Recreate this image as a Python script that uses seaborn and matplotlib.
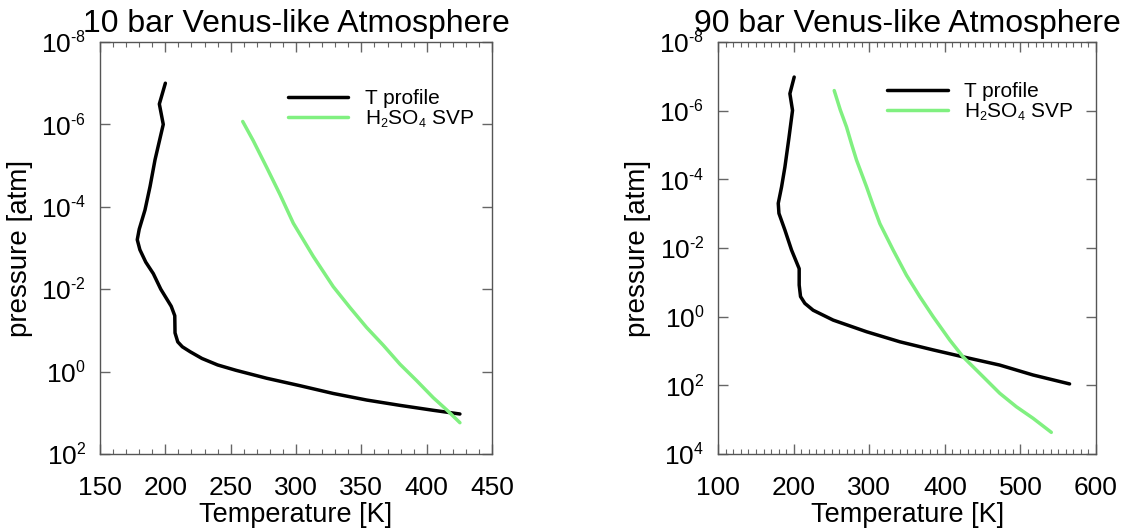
import matplotlib
matplotlib.use("Agg")
import matplotlib.pyplot as plt
import matplotlib._mathtext as _mathtext
from matplotlib.ticker import MultipleLocator, FixedLocator, FixedFormatter, NullLocator
import pandas as pd
import seaborn as sns

# ---- 10 bar atmosphere ----
t10_temp = [200.0, 195.4, 198.4, 192.1, 188.3, 184.4, 180.0, 178.5, 180.5, 185.0,
            190.8, 196.5, 204.5, 207.2, 207.4, 209.5, 213.0, 219.0, 228.0, 240.0,
            254.0, 277.5, 303.0, 328.5, 354.0, 379.5, 405.0, 425.4]
t10_pres = [1.0e-7, 3.2e-7, 1.0e-6, 7.2e-6, 3.2e-5, 1.2e-4, 3.5e-4, 6.3e-4, 1.1e-3, 2.2e-3,
            4.2e-3, 1.0e-2, 2.6e-2, 4.4e-2, 0.115, 0.19, 0.25, 0.33, 0.48, 0.69,
            0.93, 1.45, 2.2, 3.4, 4.9, 6.6, 8.7, 10.7]
svp10_temp = [259.2, 267.3, 277.5, 287.7, 297.9, 313.2, 328.5, 341.3, 354.0, 366.8,
              379.5, 392.3, 405.0, 415.3, 425.4]
svp10_pres = [8.5e-7, 2.5e-6, 1.1e-5, 5.0e-5, 2.5e-4, 1.6e-3, 8.7e-3, 2.8e-2, 8.5e-2, 0.23,
              0.66, 1.66, 4.3, 8.5, 17.4]

# ---- 90 bar atmosphere ----
t90_temp = [200.5, 194.8, 198.3, 193.5, 188.2, 183.8, 179.4, 180.3, 188.2, 197.0,
            207.1, 207.1, 208.9, 214.6, 225.6, 252.1, 296.3, 340.4, 384.4, 424.0,
            472.5, 516.6, 565.0]
t90_pres = [1.05e-7, 3.2e-7, 9.8e-7, 6.3e-6, 4.4e-5, 1.66e-4, 5.0e-4, 9.8e-4, 3.0e-3, 1.15e-2,
            4.0e-2, 0.12, 0.26, 0.41, 0.65, 1.26, 2.75, 5.4, 9.3, 14.8,
            25.7, 50.0, 91.0]
svp90_temp = [253.5, 261.5, 269.8, 276.5, 283.0, 296.3, 305.0, 313.9, 331.5, 349.1,
              366.7, 384.4, 406.4, 424.0, 450.5, 472.5, 494.5, 516.6, 540.8]
svp90_pres = [2.6e-7, 9.5e-7, 3.0e-6, 9.5e-6, 2.75e-5, 1.66e-4, 5.8e-4, 1.95e-3, 1.15e-2, 6.2e-2,
              0.26, 1.0, 4.8, 14.8, 56.0, 170.0, 420.0, 910.0, 2340.0]

titles = ["10 bar Venus-like Atmosphere", "90 bar Venus-like Atmosphere"]
series_names = ["T profile", r"H$\mathregular{_2}$SO$\mathregular{_4}$ SVP"]
series_colors = ["black", "#80f080"]

p_ticks_10 = [1e-8, 1e-6, 1e-4, 1e-2, 1e0, 1e2]
p_labels_10 = [r"$\mathregular{10^{‐8}}$", r"$\mathregular{10^{‐6}}$", r"$\mathregular{10^{‐4}}$",
               r"$\mathregular{10^{‐2}}$", r"$\mathregular{10^{0}}$", r"$\mathregular{10^{2}}$"]
p_ticks_90 = [1e-8, 1e-6, 1e-4, 1e-2, 1e0, 1e2, 1e4]
p_labels_90 = p_labels_10 + [r"$\mathregular{10^{4}}$"]

# smaller super/subscripts, closer to classic plotting-package style
_mathtext.SHRINK_FACTOR = 0.6

sns.set_theme(style="white")
plt.rcParams["font.family"] = ["Liberation Sans", "DejaVu Sans"]
plt.rcParams["mathtext.fontset"] = "custom"
plt.rcParams["mathtext.rm"] = "Liberation Sans"
plt.rcParams["mathtext.it"] = "Liberation Sans:italic"
plt.rcParams["mathtext.bf"] = "Liberation Sans:bold"
plt.rcParams["text.color"] = "black"
plt.rcParams["axes.labelcolor"] = "black"

fig = plt.figure(figsize=(11.43, 5.29), dpi=100)
ax1 = fig.add_axes([0.0875, 0.1418, 0.343, 0.7788])
ax2 = fig.add_axes([0.6284, 0.1418, 0.3305, 0.7788])

panels = [
    (ax1, t10_temp, t10_pres, svp10_temp, svp10_pres, (150, 450), 50, (1e2, 1e-8),
     p_ticks_10, p_labels_10, titles[0], (0.975, 0.905)),
    (ax2, t90_temp, t90_pres, svp90_temp, svp90_pres, (100, 600), 100, (1e4, 1e-8),
     p_ticks_90, p_labels_90, titles[1], (0.962, 0.922)),
]

for (ax, tt, tp, st, sp, xlim, xmajor, ylim, yt, yl, title, leg_anchor) in panels:
    prof = pd.DataFrame({"T": tt, "p": tp})
    svp = pd.DataFrame({"T": st, "p": sp})
    sns.lineplot(data=prof, x="T", y="p", sort=False, estimator=None, ax=ax,
                 color=series_colors[0], lw=2.5, label=series_names[0])
    sns.lineplot(data=svp, x="T", y="p", sort=False, estimator=None, ax=ax,
                 color=series_colors[1], lw=2.5, label=series_names[1])
    ax.set_yscale("log")
    ax.set_xlim(*xlim)
    ax.set_ylim(*ylim)
    ax.xaxis.set_major_locator(MultipleLocator(xmajor))
    ax.xaxis.set_minor_locator(MultipleLocator(10))
    ax.yaxis.set_major_locator(FixedLocator(yt))
    ax.yaxis.set_major_formatter(FixedFormatter(yl))
    ax.yaxis.set_minor_locator(NullLocator())
    ax.tick_params(axis="both", which="major", direction="in", length=7, width=1.0,
                   color="#666666", labelcolor="black", bottom=True, left=True,
                   top=True, right=True, labelsize=19)
    ax.tick_params(axis="x", which="major", pad=16)
    ax.tick_params(axis="y", which="major", pad=10)
    ax.tick_params(axis="both", which="minor", direction="in", length=3.5, width=0.8,
                   color="#666666", bottom=True, left=True, top=True, right=True)
    ax.set_xlabel("Temperature [K]", fontsize=19.5, labelpad=1)
    ax.set_ylabel("pressure [atm]", fontsize=20, labelpad=6)
    ax.set_title(title, fontsize=23, pad=7, color="black")
    ax.legend(loc="upper right", bbox_to_anchor=leg_anchor, frameon=False,
              fontsize=15, handlelength=2.9, handletextpad=0.8,
              labelspacing=0.0, borderaxespad=0.0)
    for spine in ax.spines.values():
        spine.set_visible(True)
        spine.set_color("#555555")
        spine.set_linewidth(1.0)

fig.savefig("out.png", dpi=100)
